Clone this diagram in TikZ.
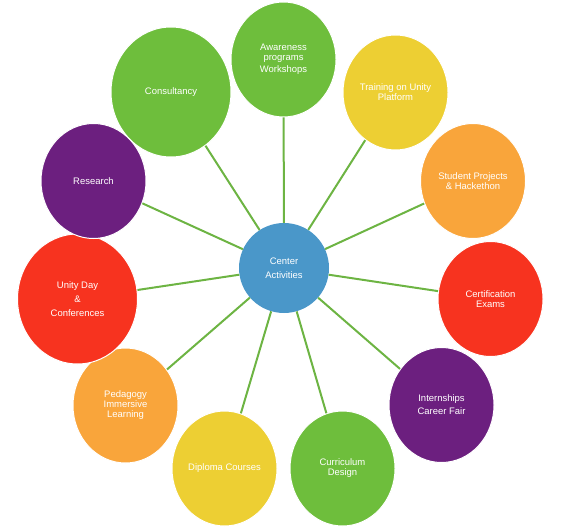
\documentclass[tikz,border=0pt]{standalone}
\usepackage{fontspec}
\setmainfont{Liberation Sans}
\usetikzlibrary{shapes.geometric}
\definecolor{cgreen}{HTML}{6EBE3C}
\definecolor{cyellow}{HTML}{EDCF33}
\definecolor{corange}{HTML}{F9A53B}
\definecolor{cred}{HTML}{F7331F}
\definecolor{cpurple}{HTML}{6C1F7F}
\definecolor{cblue}{HTML}{4A97C9}
\definecolor{cline}{HTML}{6DB443}
\tikzset{
  bubble/.style={ellipse, draw=white, line width=1bp, inner sep=0pt,
    minimum width=105bp, minimum height=115bp, text=white, align=center,
    font=\fontsize{9.5}{10}\selectfont},
  bigbubble/.style={bubble, minimum width=120bp, minimum height=130bp},
  hub/.style={circle, fill=cblue, inner sep=0pt, minimum size=90bp,
    text=white, align=center, font=\fontsize{9.5}{10}\selectfont},
  spoke/.style={draw=cline, line width=2bp}
}
\begin{document}
\begin{tikzpicture}[x=1bp,y=-1bp]
\useasboundingbox (0,0) rectangle (563,532);
\node[hub] (c) at (284,268) {Center\\[4bp]Activities};
\node[bubble, fill=cgreen] (aw) at (283.5,59.5) {Awareness\\programs\\[2bp]Workshops};
\node[bubble, fill=cyellow] (tr) at (395.5,92.5) {Training on Unity\\Platform};
\node[bubble, fill=corange] (sp) at (473,181) {Student Projects\\\& Hackethon};
\node[bubble, fill=cred] (ce) at (490.5,299) {Certification\\Exams};
\node[bubble, fill=cpurple] (in) at (441.5,405) {Internships\\[3bp]Career Fair};
\node[bubble, fill=cgreen] (cu) at (342.5,468.5) {Curriculum\\Design};
\node[bubble, fill=cyellow] (di) at (224.5,468.5) {Diploma Courses};
\node[bubble, fill=corange] (pe) at (125.5,405.5) {Pedagogy\\Immersive\\Learning};
\node[bigbubble, fill=cred] (ud) at (77.5,299) {Unity Day\\[4bp]\&\\[4bp]Conferences};
\node[bubble, fill=cpurple] (re) at (93.5,181) {Research};
\node[bigbubble, fill=cgreen] (co) at (171,92) {Consultancy};
\foreach \n in {aw,tr,sp,ce,in,cu,di,pe,ud,re,co}
  \draw[spoke] (c) -- (\n);
\end{tikzpicture}
\end{document}
